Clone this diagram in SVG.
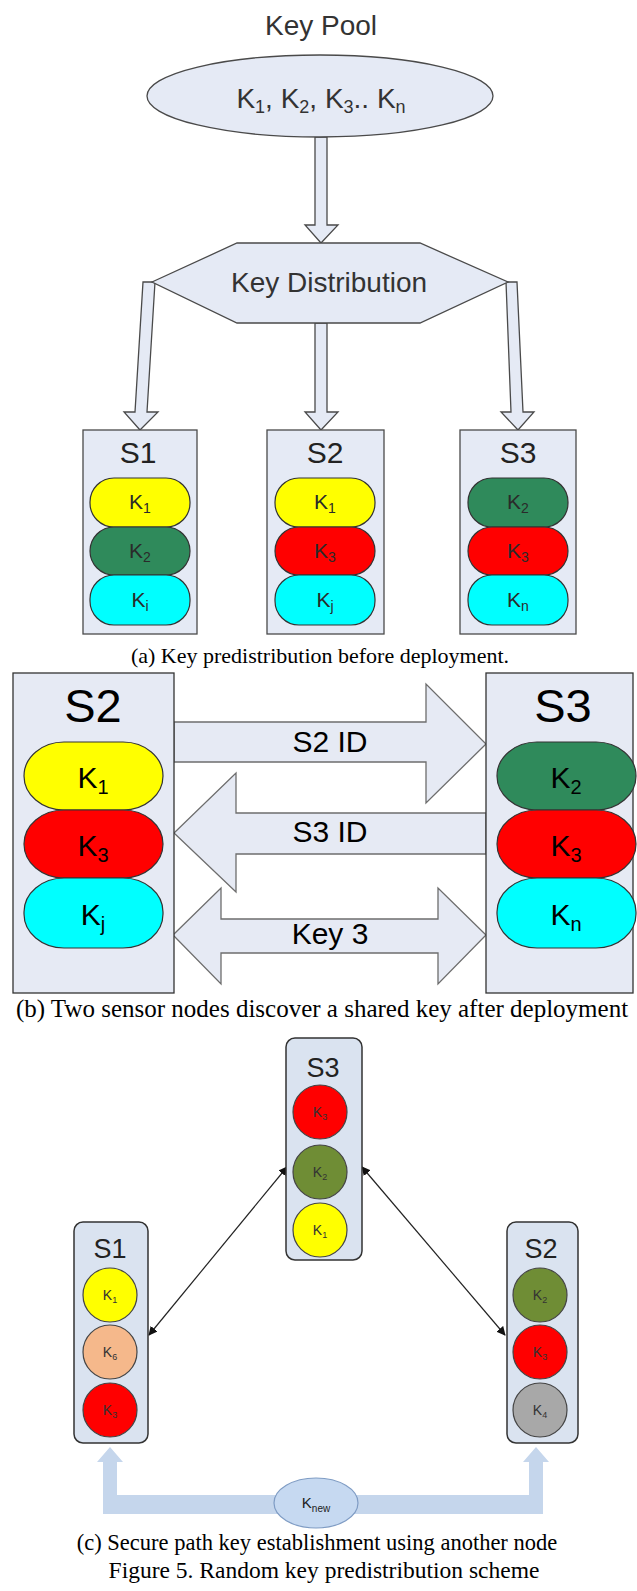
<svg xmlns="http://www.w3.org/2000/svg" width="637" height="1591" viewBox="0 0 637 1591">
<style>
  .sans{font-family:"Liberation Sans",Arial,sans-serif;}
  .serif{font-family:"Liberation Serif","Times New Roman",serif;fill:#000;}
  .pale{fill:#e5eaf5;stroke:#4a4a4a;stroke-width:1.3;}
  .blk{fill:#e5eaf5;stroke:#4a4a4a;stroke-width:1.3;}
  .barrow{fill:#e6eaf4;stroke:#6d6d6d;stroke-width:1.3;}
  .pill{stroke:#333;stroke-width:1.2;}
  .yel{fill:#ffff00;}
  .red{fill:#ff0000;}
  .cyn{fill:#00ffff;}
  .grn{fill:#2f8a5b;}
  .olv{fill:#6f8d35;}
  .pch{fill:#f5b88b;}
  .gry{fill:#a8a8a8;}
  .cbox{fill:#dae3f0;stroke:#333;stroke-width:1.5;}
  .circ{stroke:#444;stroke-width:1.2;}
  .pt{font-family:"Liberation Sans",Arial,sans-serif;font-size:21px;fill:#2a2a2a;text-anchor:middle;}
  .bt{font-family:"Liberation Sans",Arial,sans-serif;font-size:30px;fill:#000;text-anchor:middle;}
  .ct{font-family:"Liberation Sans",Arial,sans-serif;font-size:14px;fill:#333;text-anchor:middle;}
  .lbl{font-family:"Liberation Sans",Arial,sans-serif;fill:#222;text-anchor:middle;}
  .thin{stroke:#222;stroke-width:1.2;fill:none;}
</style>
<defs>
  <marker id="ah" viewBox="0 0 10 10" refX="9" refY="5" markerWidth="9" markerHeight="9" markerUnits="userSpaceOnUse" orient="auto-start-reverse">
    <path d="M0,0 L10,5 L0,10 Z" fill="#111"/>
  </marker>
</defs>

<!-- ===== Part (a) ===== -->
<text class="sans" x="321" y="35" font-size="28" fill="#333" text-anchor="middle">Key Pool</text>

<g id="connectors-a">
  <path class="blk" d="M315,137 L327,137 L327,225 L338,225 L321,243 L305,225 L315,225 Z"/>
  <path class="blk" d="M315,323 L327,323 L327,412 L338,412 L321,430 L305,412 L315,412 Z"/>
  <path class="blk" d="M143,282 L155,282 L147,412 L158,412 L140,430 L124,412 L135,412 Z"/>
  <path class="blk" d="M506,282 L517,282 L523,412 L534,412 L518,430 L501,412 L511,412 Z"/>
</g>

<g id="keypool">
  <ellipse class="pale" cx="320" cy="96" rx="173" ry="41"/>
  <text class="sans" x="321" y="108" font-size="28" fill="#333" text-anchor="middle">K<tspan font-size="18" dy="5">1</tspan><tspan dy="-5">, K</tspan><tspan font-size="18" dy="5">2</tspan><tspan dy="-5">, K</tspan><tspan font-size="18" dy="5">3</tspan><tspan dy="-5">.. K</tspan><tspan font-size="18" dy="5">n</tspan></text>
</g>

<g id="keydist">
  <polygon class="pale" points="152,282 237,243 420,243 508,282 420,323 237,323"/>
  <text class="sans" x="329" y="292" font-size="28" fill="#333" text-anchor="middle">Key Distribution</text>
</g>

<g id="a-S1">
  <rect class="pale" x="83" y="430" width="114" height="204"/>
  <text class="sans" x="138" y="463" font-size="30" fill="#222" text-anchor="middle">S1</text>
  <rect class="pill yel" x="90" y="478" width="100" height="49" rx="24" ry="24"/>
  <rect class="pill grn" x="90" y="527" width="100" height="48" rx="24" ry="24"/>
  <rect class="pill cyn" x="90" y="575" width="100" height="50" rx="24" ry="24"/>
  <text class="pt" x="140" y="509">K<tspan font-size="14" dy="4">1</tspan></text>
  <text class="pt" x="140" y="558" fill="#1d3d24">K<tspan font-size="14" dy="4">2</tspan></text>
  <text class="pt" x="140" y="607" fill="#1e4f6a">K<tspan font-size="14" dy="4">i</tspan></text>
</g>

<g id="a-S2">
  <rect class="pale" x="267" y="430" width="117" height="204"/>
  <text class="sans" x="325" y="463" font-size="30" fill="#222" text-anchor="middle">S2</text>
  <rect class="pill yel" x="275" y="478" width="100" height="49" rx="24" ry="24"/>
  <rect class="pill red" x="275" y="527" width="100" height="48" rx="24" ry="24"/>
  <rect class="pill cyn" x="275" y="575" width="100" height="50" rx="24" ry="24"/>
  <text class="pt" x="325" y="509">K<tspan font-size="14" dy="4">1</tspan></text>
  <text class="pt" x="325" y="558" fill="#a00000">K<tspan font-size="14" dy="4">3</tspan></text>
  <text class="pt" x="325" y="607" fill="#1e4f6a">K<tspan font-size="14" dy="4">j</tspan></text>
</g>

<g id="a-S3">
  <rect class="pale" x="460" y="430" width="116" height="204"/>
  <text class="sans" x="518" y="463" font-size="30" fill="#222" text-anchor="middle">S3</text>
  <rect class="pill grn" x="468" y="478" width="100" height="49" rx="24" ry="24"/>
  <rect class="pill red" x="468" y="527" width="100" height="48" rx="24" ry="24"/>
  <rect class="pill cyn" x="468" y="575" width="100" height="50" rx="24" ry="24"/>
  <text class="pt" x="518" y="509" fill="#1d3d24">K<tspan font-size="14" dy="4">2</tspan></text>
  <text class="pt" x="518" y="558" fill="#a00000">K<tspan font-size="14" dy="4">3</tspan></text>
  <text class="pt" x="518" y="607" fill="#1e4f6a">K<tspan font-size="14" dy="4">n</tspan></text>
</g>

<text class="serif" x="320" y="663" text-anchor="middle" font-size="22">(a) Key predistribution before deployment.</text>

<!-- ===== Part (b) ===== -->
<g id="connectors-b">
  <path class="barrow" d="M174,722 L426,722 L426,684 L486,744 L426,803 L426,762 L174,762 Z"/>
  <path class="barrow" d="M486,813 L236,813 L236,773 L174,833 L236,892 L236,854 L486,854 Z"/>
  <path class="barrow" d="M173,935 L221,888 L221,919 L438,919 L438,888 L486,935 L438,984 L438,953 L221,953 L221,984 Z"/>
  <text class="bt" x="330" y="752">S2 ID</text>
  <text class="bt" x="330" y="842">S3 ID</text>
  <text class="bt" x="330" y="944">Key 3</text>
</g>

<g id="b-S2">
  <rect class="barrow" style="stroke:#333" x="13" y="673" width="161" height="320"/>
  <text class="sans" x="93" y="722" font-size="47" fill="#000" text-anchor="middle">S2</text>
  <rect class="pill yel" x="24" y="742" width="139" height="68" rx="40" ry="34"/>
  <rect class="pill red" x="24" y="810" width="139" height="68" rx="40" ry="34"/>
  <rect class="pill cyn" x="24" y="878" width="139" height="70" rx="40" ry="34"/>
  <text class="bt" x="93" y="788">K<tspan font-size="20" dy="6">1</tspan></text>
  <text class="bt" x="93" y="856">K<tspan font-size="20" dy="6">3</tspan></text>
  <text class="bt" x="93" y="925">K<tspan font-size="20" dy="6">j</tspan></text>
</g>

<g id="b-S3">
  <rect class="barrow" style="stroke:#333" x="486" y="673" width="147" height="320"/>
  <text class="sans" x="563" y="722" font-size="47" fill="#000" text-anchor="middle">S3</text>
  <rect class="pill grn" x="497" y="742" width="139" height="68" rx="40" ry="34"/>
  <rect class="pill red" x="497" y="810" width="139" height="68" rx="40" ry="34"/>
  <rect class="pill cyn" x="497" y="878" width="139" height="70" rx="40" ry="34"/>
  <text class="bt" x="566" y="788">K<tspan font-size="20" dy="6">2</tspan></text>
  <text class="bt" x="566" y="856">K<tspan font-size="20" dy="6">3</tspan></text>
  <text class="bt" x="566" y="925">K<tspan font-size="20" dy="6">n</tspan></text>
</g>

<text class="serif" x="322" y="1017" text-anchor="middle" font-size="25">(b) Two sensor nodes discover a shared key after deployment</text>

<!-- ===== Part (c) ===== -->
<g id="connectors-c">
  <line class="thin" x1="287" y1="1167" x2="149" y2="1335" marker-start="url(#ah)" marker-end="url(#ah)"/>
  <line class="thin" x1="362" y1="1167" x2="505" y2="1335" marker-start="url(#ah)" marker-end="url(#ah)"/>
  <path d="M97,1462 L110,1447 L123,1462 L117,1462 L117,1495 L529,1495 L529,1462 L523,1462 L536,1447 L549,1462 L543,1462 L543,1514 L103,1514 L103,1462 Z" fill="#c5d6ec"/>
</g>

<g id="knew">
  <ellipse cx="316" cy="1503" rx="42" ry="25" fill="#c6d9f1" stroke="#7f9cc4" stroke-width="1.2"/>
  <text class="lbl" x="316" y="1508" font-size="15">K<tspan font-size="10" dy="4">new</tspan></text>
</g>

<g id="c-S3">
  <rect class="cbox" x="286" y="1038" width="76" height="222" rx="9"/>
  <text class="lbl" x="323" y="1077" font-size="27">S3</text>
  <circle class="circ red" cx="320" cy="1112" r="27"/>
  <circle class="circ olv" cx="320" cy="1172" r="27"/>
  <circle class="circ yel" cx="320" cy="1230" r="27"/>
  <text class="ct" x="320" y="1117" fill="#8a1a1a">K<tspan font-size="9" dy="3">3</tspan></text>
  <text class="ct" x="320" y="1177">K<tspan font-size="9" dy="3">2</tspan></text>
  <text class="ct" x="320" y="1235">K<tspan font-size="9" dy="3">1</tspan></text>
</g>

<g id="c-S1">
  <rect class="cbox" x="74" y="1222" width="74" height="221" rx="9"/>
  <text class="lbl" x="110" y="1258" font-size="27">S1</text>
  <circle class="circ yel" cx="110" cy="1295" r="27"/>
  <circle class="circ pch" cx="110" cy="1352" r="27"/>
  <circle class="circ red" cx="110" cy="1410" r="27"/>
  <text class="ct" x="110" y="1300">K<tspan font-size="9" dy="3">1</tspan></text>
  <text class="ct" x="110" y="1357">K<tspan font-size="9" dy="3">6</tspan></text>
  <text class="ct" x="110" y="1415" fill="#8a1a1a">K<tspan font-size="9" dy="3">3</tspan></text>
</g>

<g id="c-S2">
  <rect class="cbox" x="507" y="1222" width="71" height="221" rx="9"/>
  <text class="lbl" x="541" y="1258" font-size="27">S2</text>
  <circle class="circ olv" cx="540" cy="1295" r="27"/>
  <circle class="circ red" cx="540" cy="1352" r="27"/>
  <circle class="circ gry" cx="540" cy="1410" r="27"/>
  <text class="ct" x="540" y="1300">K<tspan font-size="9" dy="3">2</tspan></text>
  <text class="ct" x="540" y="1357" fill="#8a1a1a">K<tspan font-size="9" dy="3">3</tspan></text>
  <text class="ct" x="540" y="1415">K<tspan font-size="9" dy="3">4</tspan></text>
</g>

<text class="serif" x="317" y="1550" text-anchor="middle" font-size="22.5">(c) Secure path key establishment using another node</text>
<text class="serif" x="324" y="1578" text-anchor="middle" font-size="23.5">Figure 5. Random key predistribution scheme</text>
</svg>
